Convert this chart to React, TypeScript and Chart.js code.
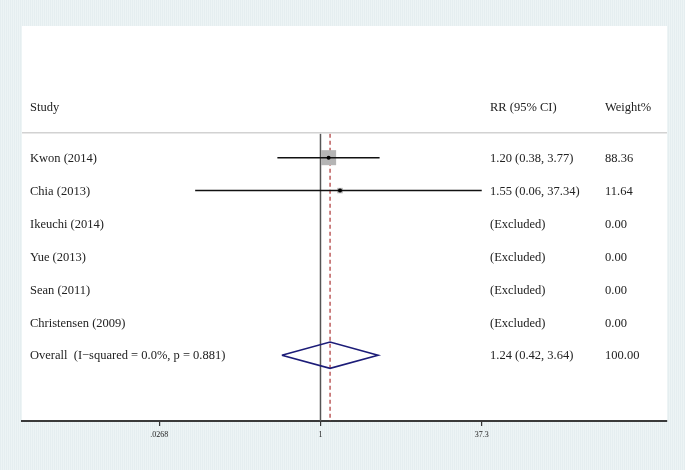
import React, { useEffect, useRef } from 'react';
import { Chart, registerables } from 'chart.js';

Chart.register(...registerables);

const studies = ['Kwon (2014)', 'Chia (2013)', 'Ikeuchi (2014)', 'Yue (2013)', 'Sean (2011)', 'Christensen (2009)'];
const rrValues: (number | null)[] = [1.2, 1.55, null, null, null, null];
const lowerCI: (number | null)[] = [0.38, 0.06, null, null, null, null];
const upperCI: (number | null)[] = [3.77, 37.34, null, null, null, null];
const ciLabels = ['1.20 (0.38, 3.77)', '1.55 (0.06, 37.34)', '(Excluded)', '(Excluded)', '(Excluded)', '(Excluded)'];
const weights = [88.36, 11.64, 0, 0, 0, 0];
const weightLabels = ['88.36', '11.64', '0.00', '0.00', '0.00', '0.00'];

const overallLabel = 'Overall  (I\u2212squared = 0.0%, p = 0.881)';
const overallRR = 1.24;
const overallLower = 0.42;
const overallUpper = 3.64;
const overallCILabel = '1.24 (0.42, 3.64)';
const overallWeightLabel = '100.00';

const headerStudy = 'Study';
const headerRR = 'RR (95% CI)';
const headerWeight = 'Weight%';

const xTicks = [0.0268, 1, 37.3];
const xTickLabels = ['.0268', '1', '37.3'];

const FONT = '"Liberation Serif", "Times New Roman", serif';

export default function App() {
  const ref = useRef<HTMLCanvasElement>(null);

  useEffect(() => {
    if (!ref.current) return;
    const overallRow = studies.length;
    const headerRow = -1.55;
    const sepRow = -0.76;
    const lineTop = -0.73;

    const ciSets: any[] = [];
    studies.forEach((_, i) => {
      const lo = lowerCI[i];
      const hi = upperCI[i];
      if (lo != null && hi != null) {
        ciSets.push({
          data: [{ x: lo, y: i }, { x: hi, y: i }],
          showLine: true,
          borderColor: '#111',
          borderWidth: 1.5,
          pointRadius: 0,
          order: 1,
        });
      }
    });

    const pts = studies
      .map((_, i) => (rrValues[i] != null ? { x: rrValues[i] as number, y: i, w: weights[i] } : null))
      .filter(Boolean) as { x: number; y: number; w: number }[];

    const boxSides = pts.map((p) => 1.6 * Math.sqrt(p.w));

    const textPlugin = {
      id: 'forestText',
      beforeDraw(chart: any) {
        const { ctx, chartArea } = chart;
        ctx.save();
        ctx.fillStyle = '#ffffff';
        ctx.fillRect(chartArea.left, chartArea.top, chartArea.right - chartArea.left, chartArea.bottom - chartArea.top);
        ctx.restore();
      },
      afterDraw(chart: any) {
        const { ctx, chartArea } = chart;
        const ys = chart.scales.y;
        ctx.save();
        ctx.font = `12.5px ${FONT}`;
        ctx.fillStyle = '#222';
        ctx.textBaseline = 'middle';
        ctx.textAlign = 'left';
        const colStudy = 30;
        const colRR = 490;
        const colW = 605;
        const dy = 1;
        const hy = ys.getPixelForValue(headerRow) + dy;
        ctx.fillText(headerStudy, colStudy, hy);
        ctx.fillText(headerRR, colRR, hy);
        ctx.fillText(headerWeight, colW, hy);
        studies.forEach((s, i) => {
          const y = ys.getPixelForValue(i) + dy;
          ctx.fillText(s, colStudy, y);
          ctx.fillText(ciLabels[i], colRR, y);
          ctx.fillText(weightLabels[i], colW, y);
        });
        const oy = ys.getPixelForValue(overallRow) + dy;
        ctx.fillText(overallLabel, colStudy, oy);
        ctx.fillText(overallCILabel, colRR, oy);
        ctx.fillText(overallWeightLabel, colW, oy);
        const sy = ys.getPixelForValue(sepRow);
        ctx.strokeStyle = '#d2d2d2';
        ctx.lineWidth = 1.5;
        ctx.beginPath();
        ctx.moveTo(chartArea.left, sy);
        ctx.lineTo(chartArea.right, sy);
        ctx.stroke();
        ctx.restore();
      },
    };

    const chart = new Chart(ref.current, {
      type: 'scatter',
      data: {
        datasets: [
          {
            data: pts.map((p) => ({ x: p.x, y: p.y })),
            pointStyle: 'circle',
            pointRadius: 2,
            backgroundColor: '#000',
            borderWidth: 0,
            order: 0,
          },
          ...ciSets,
          {
            data: pts.map((p) => ({ x: p.x, y: p.y })),
            pointStyle: 'rect',
            pointRadius: boxSides.map((s) => s / Math.SQRT2),
            backgroundColor: '#b5b5b5',
            borderWidth: 0,
            order: 2,
          },
          {
            data: [
              { x: overallLower, y: overallRow },
              { x: overallRR, y: overallRow - 0.4 },
              { x: overallUpper, y: overallRow },
              { x: overallRR, y: overallRow + 0.4 },
              { x: overallLower, y: overallRow },
            ],
            showLine: true,
            borderColor: '#1c1c78',
            borderWidth: 1.6,
            pointRadius: 0,
            order: 3,
          },
          {
            data: [{ x: overallRR, y: lineTop }, { x: overallRR, y: 8 }],
            showLine: true,
            borderColor: '#b85050',
            borderWidth: 1.4,
            borderDash: [4, 3],
            pointRadius: 0,
            order: 4,
          },
          {
            data: [{ x: 1, y: lineTop }, { x: 1, y: 8 }],
            showLine: true,
            borderColor: '#555',
            borderWidth: 1.5,
            pointRadius: 0,
            order: 5,
          },
        ],
      },
      options: {
        responsive: false,
        animation: false,
        devicePixelRatio: 1,
        layout: { padding: { left: 22, right: 18, top: 26, bottom: 0 } },
        plugins: { legend: { display: false }, tooltip: { enabled: false } },
        scales: {
          x: {
            type: 'logarithmic',
            min: 0.00123,
            max: 2390,
            afterBuildTicks: (axis: any) => {
              axis.ticks = xTicks.map((v) => ({ value: v }));
            },
            afterFit: (axis: any) => {
              axis.height = 49;
            },
            ticks: {
              autoSkip: false,
              maxRotation: 0,
              padding: 4,
              color: '#222',
              font: { family: FONT, size: 8 },
              callback: (_v: any, i: number) => xTickLabels[i],
            },
            grid: { drawOnChartArea: false, drawTicks: true, tickLength: 5, color: '#333', lineWidth: 1.2 },
            border: { display: true, color: '#3a3a3a', width: 2 },
          },
          y: {
            type: 'linear',
            min: -4,
            max: 8,
            reverse: true,
            display: false,
          },
        },
      },
      plugins: [textPlugin],
    } as any);

    return () => chart.destroy();
  }, []);

  return (
    <div
      style={{
        position: 'absolute',
        left: 0,
        top: 0,
        width: 685,
        height: 470,
        background: 'repeating-linear-gradient(90deg, #e5eef0 0px, #e5eef0 1px, #edf4f5 1px, #edf4f5 2px)',
      }}
    >
      <canvas ref={ref} width={685} height={470} style={{ display: 'block' }} />
    </div>
  );
}
